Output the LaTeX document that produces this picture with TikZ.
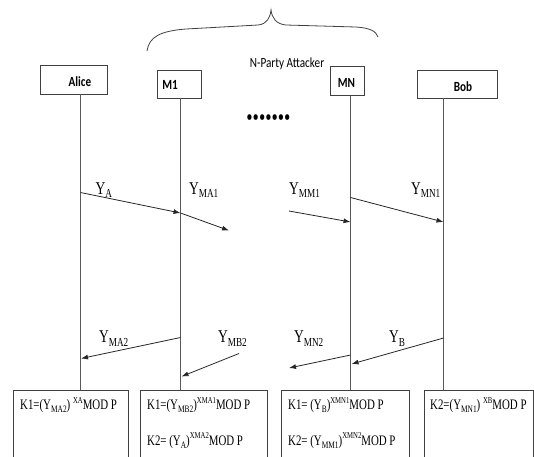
\documentclass[tikz,border=0pt]{standalone}
\usepackage{fontspec}
\usepackage{graphicx}
\usetikzlibrary{arrows.meta}
\setmainfont{Liberation Serif}[FakeStretch=0.75]
\newfontfamily\namefont{Carlito}[FakeStretch=0.8]
% lowered and raised indices set in the running text font
\newcommand{\lo}[1]{\raisebox{-0.22em}{\scalebox{0.68}{#1}}}
\newcommand{\hi}[1]{\raisebox{0.42em}{\scalebox{0.62}{#1}}}
\begin{document}
\begin{tikzpicture}[x=1pt,y=-1pt,
  actor/.style={draw=black!75,line width=0.9pt,rectangle,inner sep=0pt},
  actorname/.style={font=\namefont\bfseries\fontsize{14}{16}\selectfont,inner sep=0pt},
  keybox/.style={draw=black!75,line width=0.9pt},
  life/.style={draw=black!65,line width=0.8pt},
  msg/.style={draw=black!85,line width=0.8pt,-{Latex[length=7pt,width=5pt]}},
  msglabel/.style={font=\fontsize{18}{20}\selectfont,inner sep=0pt,anchor=base west},
  keytext/.style={font=\fontsize{14.5}{16}\selectfont,inner sep=0pt,anchor=base west}]
\useasboundingbox (0,0) rectangle (534,456);

% attacker brace and caption
\draw[black!75,line width=0.8pt] (147,51) .. controls (149,37) and (160,31) .. (186,29)
  -- (258,25) .. controls (267,24) and (270,18) .. (271,10)
  .. controls (272,18) and (276,24) .. (286,25)
  -- (356,27) .. controls (370,28) and (376,31) .. (378,37);
\node[font=\namefont\fontsize{14}{16}\selectfont,inner sep=0pt] (crew) at (287,64) {N-Party Attacker};

% participants
\node[actor,minimum width=67.5pt,minimum height=28.5pt] (alice) at (73.75,79.75) {};
\node[actor,minimum width=44pt,minimum height=28pt] (m1) at (179,84) {};
\node[actor,minimum width=34pt,minimum height=29pt] (mn) at (347,81) {};
\node[actor,minimum width=80pt,minimum height=28pt] (bob) at (457,84) {};
\node[actorname] (alicet) at (80,82) {Alice};
\node[actorname] (m1t) at (170,85) {M1};
\node[actorname] (mnt) at (346.5,83) {MN};
\node[actorname] (bobt) at (463,87) {Bob};

\node[font=\fontsize{24}{26}\selectfont,inner sep=0pt] (dots) at (268.5,120)
  {\textbullet\textbullet\textbullet\textbullet\textbullet\textbullet\textbullet};

% key computation boxes
\draw[keybox] (13.5,470) |- (128,390) -- (128,470);
\draw[keybox] (140.5,470) |- (267,390) -- (267,470);
\draw[keybox] (281.5,470) |- (409,390) -- (409,470);
\draw[keybox] (424,470) |- (533,390) -- (533,470);
\coordinate (b1) at (70,390);
\coordinate (b2) at (204,390);
\coordinate (b3) at (345,390);
\coordinate (b4) at (478,390);

% lifeline abscissae
\coordinate (xa) at (80.5,0);
\coordinate (x1) at (180.5,0);
\coordinate (xn) at (350.5,0);
\coordinate (xb) at (443.5,0);
\draw[life] (alice.south -| xa) -- (b1 -| xa);
\draw[life] (m1.south -| x1) -- (b2 -| x1);
\draw[life] (mn.south -| xn) -- (b3 -| xn);
\draw[life] (bob.south -| xb) -- (b4 -| xb);

% messages
\coordinate (p1) at (80.5,192.5);
\coordinate (p2) at (180.5,213);
\coordinate (p3) at (229,230.5);
\coordinate (p4) at (289,211);
\coordinate (p5) at (350.5,222);
\coordinate (p6) at (350.5,197.5);
\coordinate (p7) at (443.5,222);
\draw[msg] (p1) -- (p2);
\draw[msg] (p2) -- (p3);
\draw[msg] (p4) -- (p5);
\draw[msg] (p6) -- (p7);

\coordinate (q1) at (180.5,337.5);
\coordinate (q2) at (81,358.5);
\coordinate (q3) at (239,353.5);
\coordinate (q4) at (181.5,376.5);
\coordinate (q5) at (350.5,355);
\coordinate (q6) at (289,368);
\coordinate (q7) at (443.5,338);
\coordinate (q8) at (351.5,364);
\draw[msg] (q1) -- (q2);
\draw[msg] (q3) -- (q4);
\draw[msg] (q5) -- (q6);
\draw[msg] (q7) -- (q8);

% message labels
\node[msglabel] (ya) at (95.5,194) {Y\lo{A}};
\node[msglabel] (yma1) at (189,194) {Y\lo{MA1}};
\node[msglabel] (ymm1) at (289,194) {Y\lo{MM1}};
\node[msglabel] (ymn1) at (411,194) {Y\lo{MN1}};
\node[msglabel] (yma2) at (99,342.5) {Y\lo{MA2}};
\node[msglabel] (ymb2) at (218,342.5) {Y\lo{MB2}};
\node[msglabel] (ymn2) at (294,342.5) {Y\lo{MN2}};
\node[msglabel] (yb) at (389,342.5) {Y\lo{B}};

% keys
\node[keytext] (k1a) at (20,409.5) {K1=(Y\lo{MA2}) \hi{XA}MOD P};
\node[keytext] (k1m) at (147,409.5) {K1=(Y\lo{MB2})\hi{XMA1}MOD P};
\node[keytext] (k2m) at (147,445) {K2= (Y\lo{A})\hi{XMA2}MOD P};
\node[keytext] (k1n) at (288,409.5) {K1= (Y\lo{B})\hi{XMN1}MOD P};
\node[keytext] (k2n) at (288,445) {K2= (Y\lo{MM1})\hi{XMN2}MOD P};
\node[keytext] (k2b) at (430,409.5) {K2=(Y\lo{MN1}) \hi{XB}MOD P};
\end{tikzpicture}
\end{document}
